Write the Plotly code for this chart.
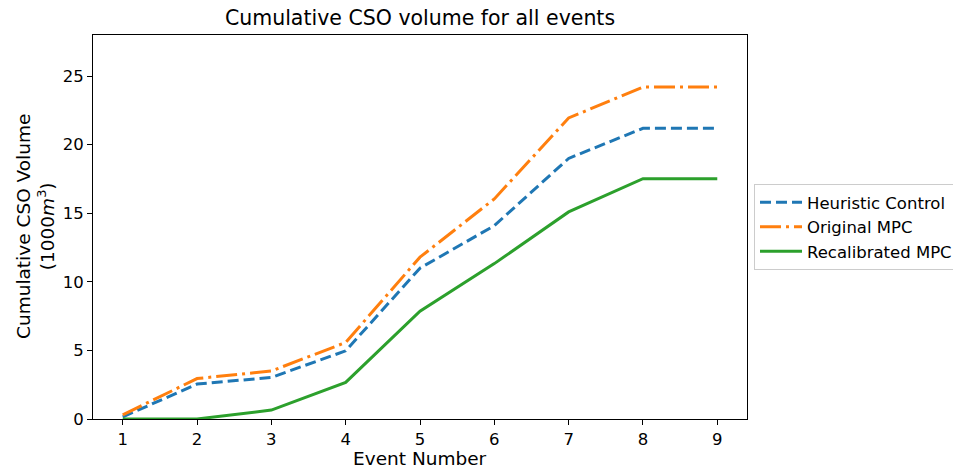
import plotly.graph_objects as go

events = [1, 2, 3, 4, 5, 6, 7, 8, 9]
heuristic = [0.15, 2.55, 3.03, 4.97, 11.0, 14.1, 19.0, 21.2, 21.2]
original_mpc = [0.3, 2.95, 3.5, 5.58, 11.8, 16.05, 21.95, 24.2, 24.2]
recalibrated_mpc = [0.0, 0.0, 0.65, 2.67, 7.86, 11.33, 15.1, 17.52, 17.52]
y_ticks = [0, 5, 10, 15, 20, 25]

fig = go.Figure()
fig.add_trace(go.Scatter(x=events, y=heuristic, mode="lines", name="Heuristic Control",
                         line=dict(color="#1f77b4", width=3, dash="11px,5px")))
fig.add_trace(go.Scatter(x=events, y=original_mpc, mode="lines", name="Original MPC",
                         line=dict(color="#ff7f0e", width=3, dash="21px,5px,3px,5px")))
fig.add_trace(go.Scatter(x=events, y=recalibrated_mpc, mode="lines", name="Recalibrated MPC",
                         line=dict(color="#2ca02c", width=3)))

font = "DejaVu Sans, sans-serif"
# page body has an 8px margin, so the figure is drawn 8px in from the window's corner
W, H = 953, 459
L, R, T, B = 85, 214, 27, 48
plot_w = W - L - R
plot_h = H - T - B

fig.update_layout(
    width=W, height=H,
    margin=dict(l=L, r=R, t=T, b=B, autoexpand=False),
    plot_bgcolor="white", paper_bgcolor="white",
    font=dict(family=font, size=16, color="black"),
    title=dict(text="Cumulative CSO volume for all events", x=(L + plot_w / 2) / W, xanchor="center",
               y=1 - 10 / H, yanchor="middle", font=dict(size=20.5)),
    showlegend=True,
    legend=dict(x=(746 - L) / plot_w, xanchor="left", y=0.5, yanchor="middle",
                bordercolor="#cccccc", borderwidth=1, font=dict(size=16.5),
                tracegroupgap=0, itemwidth=42),
    annotations=[
        dict(text="Event Number", xref="paper", yref="paper", x=0.5, y=-(450 - (T + plot_h)) / plot_h,
             xanchor="center", yanchor="middle", showarrow=False, font=dict(size=18.5)),
        dict(text="Cumulative CSO Volume<br>(1000<i>m</i><sup>3</sup>)", xref="paper", yref="paper",
             x=(27 - L) / plot_w, y=0.5, xanchor="center", yanchor="middle", textangle=-90,
             showarrow=False, font=dict(size=18.5)),
    ],
)
fig.update_xaxes(range=[0.6, 9.4], tickvals=events, showline=True, linecolor="black", linewidth=1,
                 mirror=True, ticks="outside", ticklen=5, tickcolor="black", showgrid=False,
                 zeroline=False, tickfont=dict(size=16.5), automargin=False)
fig.update_yaxes(range=[0, 28], tickvals=y_ticks, showline=True, linecolor="black",
                 linewidth=1, mirror=True, ticks="outside", ticklen=5, tickcolor="black",
                 showgrid=False, zeroline=False, tickfont=dict(size=16.5), automargin=False)

fig.write_html("out.html")
